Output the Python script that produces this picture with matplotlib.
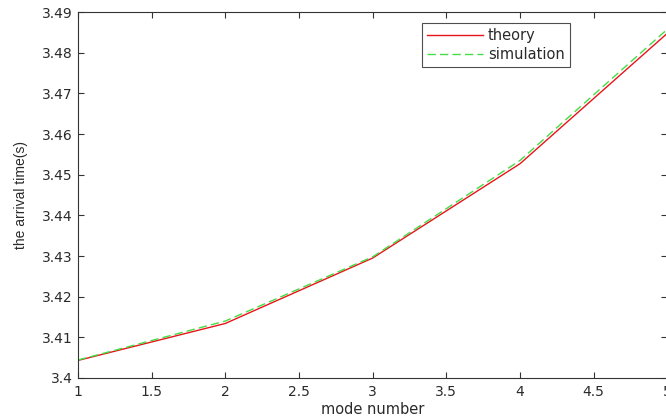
import numpy as np
import matplotlib
matplotlib.use('Agg')
import matplotlib.pyplot as plt
from matplotlib import font_manager

# data
mode_number = [1, 2, 3, 4, 5]
theory = [3.4043, 3.4134, 3.4295, 3.4527, 3.4848]
simulation = [3.4044, 3.4140, 3.4298, 3.4535, 3.4858]

x_ticks = [1, 1.5, 2, 2.5, 3, 3.5, 4, 4.5, 5]
x_tick_labels = ['1', '1.5', '2', '2.5', '3', '3.5', '4', '4.5', '5']
y_ticks = [3.40, 3.41, 3.42, 3.43, 3.44, 3.45, 3.46, 3.47, 3.48, 3.49]
y_tick_labels = ['3.4', '3.41', '3.42', '3.43', '3.44', '3.45', '3.46', '3.47', '3.48', '3.49']

plt.rcParams['font.family'] = ['DejaVu Sans']

# narrow font for the y label if it is there
names = {f.name for f in font_manager.fontManager.ttflist}
ylab_font = 'Liberation Sans Narrow' if 'Liberation Sans Narrow' in names else 'Liberation Sans'
ylab_size = 12 if ylab_font == 'Liberation Sans Narrow' else 10

fig = plt.figure(figsize=(6.66, 4.19), dpi=100)
ax = fig.add_axes([0.117, 0.098, 0.885, 0.873])

ax.plot(mode_number, theory, color='#e8141c', lw=1.0, label='theory')
ax.plot(mode_number, simulation, color='#44dd44', lw=1.0, ls=(0, (6, 3)), label='simulation')

ax.set_xlim(1, 5)
ax.set_ylim(3.40, 3.49)
ax.set_xticks(x_ticks)
ax.set_xticklabels(x_tick_labels)
ax.set_yticks(y_ticks)
ax.set_yticklabels(y_tick_labels)
ax.tick_params(direction='in', top=True, right=True, length=4, width=0.8,
               labelsize=10, colors='#333333', labelcolor='#2a2a2a')
ax.tick_params(axis='x', pad=5)
for s in ax.spines.values():
    s.set_color('#333333')
    s.set_linewidth(0.8)

ax.set_xlabel('mode number', fontsize=10.5, labelpad=2, color='#2a2a2a')
ax.set_ylabel('the arrival time(s)', fontsize=ylab_size, labelpad=10,
              family=ylab_font, color='#2a2a2a')

leg = ax.legend(loc='upper left', bbox_to_anchor=(0.572, 0.99), fontsize=10.5,
                frameon=True, fancybox=False, edgecolor='#222222',
                handlelength=3.8, handletextpad=0.35, borderpad=0.35, labelspacing=0.25)
leg.get_frame().set_linewidth(0.8)
for t in leg.get_texts():
    t.set_color('#2a2a2a')

plt.savefig('out.png', dpi=100)
